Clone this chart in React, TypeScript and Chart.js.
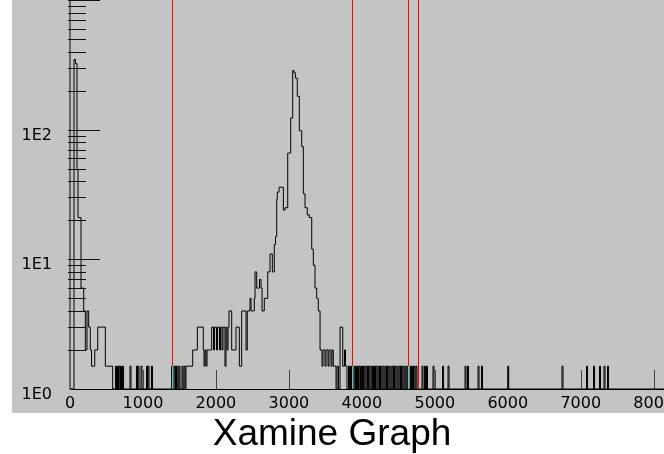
import React, { useEffect, useRef } from 'react';
import { Chart, registerables } from 'chart.js';

Chart.register(...registerables);

// ---- data ----
const X_MAX = 8141;
const xTickValues = [0, 1000, 2000, 3000, 4000, 5000, 6000, 7000, 8000];
const yTickValues = [1, 10, 100];
const yTickLabels = ['1E0', '1E1', '1E2'];

// Spectrum outline: the count holds from each channel until the next entry.
const stepChannels = [
  0, 55, 75, 96, 110, 151, 188, 210, 233, 256, 278, 295, 339, 380, 484, 585,
  1590, 1682, 1745, 1827, 1837, 1850, 1864, 1878, 1942, 1967, 1981, 2008, 2022,
  2049, 2063, 2083, 2097, 2124, 2138, 2152, 2166, 2179, 2216, 2275, 2321, 2353,
  2412, 2430, 2467, 2481, 2526, 2536, 2559, 2597, 2618, 2632, 2663, 2710, 2741,
  2773, 2800, 2817, 2833, 2841, 2865, 2924, 2947, 2984, 3025, 3052, 3070, 3088,
  3115, 3143, 3176, 3198, 3221, 3252, 3280, 3313, 3335, 3358, 3381, 3403, 3427,
  3454, 3468, 3495, 3509, 3536, 3550, 3577, 3591, 3609, 3646, 3660, 3680, 3701,
  3738, 3762, 3776, 3796,
];
const stepCounts = [
  1, 348, 323, 49, 21, 6, 4, 2, 4, 3, 2, 1.5, 2, 3, 1.5, 1,
  1.5, 2, 3, 2, 1.5, 2, 1.5, 2, 3, 2, 3, 2, 3,
  2, 3, 2, 3, 1.5, 3, 2, 3, 4, 2, 3, 1.5, 4,
  2, 4, 5, 4, 5, 8, 6, 7, 6, 4, 5, 8, 11,
  8, 13, 15, 29, 33, 36, 24, 25, 66, 123, 286, 275, 250,
  181, 98, 74, 32, 25, 22, 21, 12, 9, 6, 5, 4, 2,
  1.5, 2, 1.5, 2, 1.5, 2, 1.5, 2, 1.5, 1, 1.5, 1, 3,
  1.5, 2, 1.5, 1,
];

// Isolated single-count channels (Xamine draws them at ~1.5 on its log scale)
const spikeChannels = [
  624, 651, 672, 692, 720, 822, 911, 932, 973, 1049, 1069, 1117, 1392, 1425,
  1446, 1467, 1494, 1535, 1563,
  3817, 3845, 3862, 3893, 3913, 3941, 3961, 3982, 4009, 4030, 4057, 4078, 4098,
  4126, 4146, 4173, 4194, 4221, 4242, 4263, 4290, 4317, 4338, 4359, 4386, 4413,
  4434, 4454, 4482, 4509, 4530, 4550, 4578, 4605, 4630, 4667, 4694, 4715, 4742,
  4824, 4859, 4886, 4975, 5106, 5181, 5414, 5448, 5592, 5640, 5999, 6743, 7079,
  7175, 7257, 7319, 7367,
];
const SPIKE_COUNT = 1.5;
const SPIKE_WIDTH = 14; // channels
const EMPTY_COUNT = 1;

// Gate (cut) lines, in channels
const gateChannels = [1396, 3866, 4632, 4770];
const gateOverSpike = [true, true, true, false];

const TITLE = 'Xamine Graph';

// ---- styles ----
const GREY = '#c4c4c4';
const TICK_FONT = { family: '"DejaVu Sans", sans-serif', size: 16 };

function buildPoints() {
  const pts: { x: number; y: number }[] = stepChannels.map((c, i) => ({ x: c, y: stepCounts[i] }));
  spikeChannels.forEach((c) => {
    pts.push({ x: c, y: SPIKE_COUNT });
    pts.push({ x: c + SPIKE_WIDTH, y: EMPTY_COUNT });
  });
  pts.sort((a, b) => a.x - b.x);
  pts.push({ x: X_MAX, y: EMPTY_COUNT });
  return pts;
}

const bgPlugin = {
  id: 'xamineBg',
  beforeDraw(chart: any) {
    const { ctx } = chart;
    const xs = chart.scales.x;
    ctx.save();
    ctx.fillStyle = GREY;
    ctx.fillRect(12, 0, chart.chartArea.right - 12, xs.bottom);
    ctx.restore();
  },
};

const ticksPlugin = {
  id: 'xamineTicks',
  beforeDatasetsDraw(chart: any) {
    const { ctx, chartArea } = chart;
    const ys = chart.scales.y;
    const xs = chart.scales.x;
    ctx.save();
    ctx.fillStyle = '#111';
    [1, 10, 100].forEach((d) => {
      for (let k = 1; k <= 9; k++) {
        const v = k * d;
        if (v === 1) continue;
        const py = Math.round(ys.getPixelForValue(v));
        const len = k === 1 ? 30 : 16;
        ctx.fillRect(chartArea.left - 2, py, len + 2, 1);
      }
    });
    ctx.fillRect(chartArea.left - 2, Math.round(ys.getPixelForValue(1000)), 32, 1);

    ctx.fillStyle = '#444';
    xTickValues.forEach((v) => {
      if (v === 0) return;
      const px = Math.round(xs.getPixelForValue(v));
      ctx.fillRect(px, chartArea.bottom - 19, 1, 19);
    });
    ctx.restore();
  },
};

const gatePlugin = {
  id: 'xamineGates',
  afterDraw(chart: any) {
    const { ctx, chartArea } = chart;
    const ys = chart.scales.y;
    const xs = chart.scales.x;
    const ySpike = Math.round(ys.getPixelForValue(SPIKE_COUNT));
    const bottom = Math.round(chartArea.bottom);
    ctx.save();
    gateChannels.forEach((c, i) => {
      const px = Math.round(xs.getPixelForValue(c));
      const redEnd = gateOverSpike[i] ? ySpike : bottom;
      ctx.fillStyle = '#ff0000';
      ctx.fillRect(px, chartArea.top, 1, redEnd - chartArea.top);
      if (gateOverSpike[i]) {
        ctx.fillStyle = '#50c8c8';
        ctx.fillRect(px, ySpike, 1, bottom - ySpike);
      }
    });
    ctx.restore();
  },
};

export default function App() {
  const ref = useRef<HTMLCanvasElement | null>(null);

  useEffect(() => {
    if (!ref.current) return;
    const chart = new Chart(ref.current, {
      type: 'line',
      data: {
        datasets: [
          {
            data: buildPoints(),
            stepped: true,
            borderColor: '#000',
            borderWidth: 1,
            pointRadius: 0,
            fill: false,
          } as any,
        ],
      },
      options: {
        animation: false,
        responsive: false,
        devicePixelRatio: 1,
        layout: { padding: { left: 0, right: 56, top: 0, bottom: 0 } },
        plugins: {
          legend: { display: false },
          tooltip: { enabled: false },
          title: {
            display: true,
            text: TITLE,
            position: 'bottom',
            color: '#000',
            font: { family: '"Liberation Sans", Arial, sans-serif', size: 37, weight: 'normal', lineHeight: 1 },
            padding: { top: 3, bottom: 1 },
          },
        },
        scales: {
          x: {
            type: 'linear',
            min: 0,
            max: X_MAX,
            grid: { display: true, drawOnChartArea: false, drawTicks: false },
            border: { display: true, color: '#000', width: 1 },
            afterBuildTicks: (s: any) => {
              s.ticks = xTickValues.map((v) => ({ value: v }));
            },
            ticks: {
              autoSkip: false,
              maxRotation: 0,
              padding: 5,
              color: '#000',
              font: TICK_FONT,
              callback: (v: any) => String(v),
            },
            afterFit: (s: any) => {
              s.height = 24;
              s.paddingLeft = 0;
              s.paddingRight = 0;
            },
          },
          y: {
            type: 'logarithmic',
            min: 1,
            max: 1000,
            grid: { display: true, drawOnChartArea: false, drawTicks: false },
            border: { display: true, color: '#666', width: 2 },
            afterBuildTicks: (s: any) => {
              s.ticks = yTickValues.map((v) => ({ value: v }));
            },
            ticks: {
              padding: 18,
              labelOffset: 6,
              color: '#000',
              font: TICK_FONT,
              callback: (v: any) => {
                const i = yTickValues.indexOf(Number(v));
                return i >= 0 ? yTickLabels[i] : '';
              },
            },
            afterFit: (s: any) => {
              s.width = 70;
              s.paddingTop = 0;
              s.paddingBottom = 0;
            },
          },
        },
      },
      plugins: [bgPlugin, ticksPlugin, gatePlugin],
    });
    return () => chart.destroy();
  }, []);

  return (
    <div style={{ position: 'absolute', left: 0, top: 0, width: 664, height: 454, overflow: 'hidden', background: '#fff' }}>
      <canvas ref={ref} width={720} height={454} style={{ width: 720, height: 454, display: 'block' }} />
    </div>
  );
}
